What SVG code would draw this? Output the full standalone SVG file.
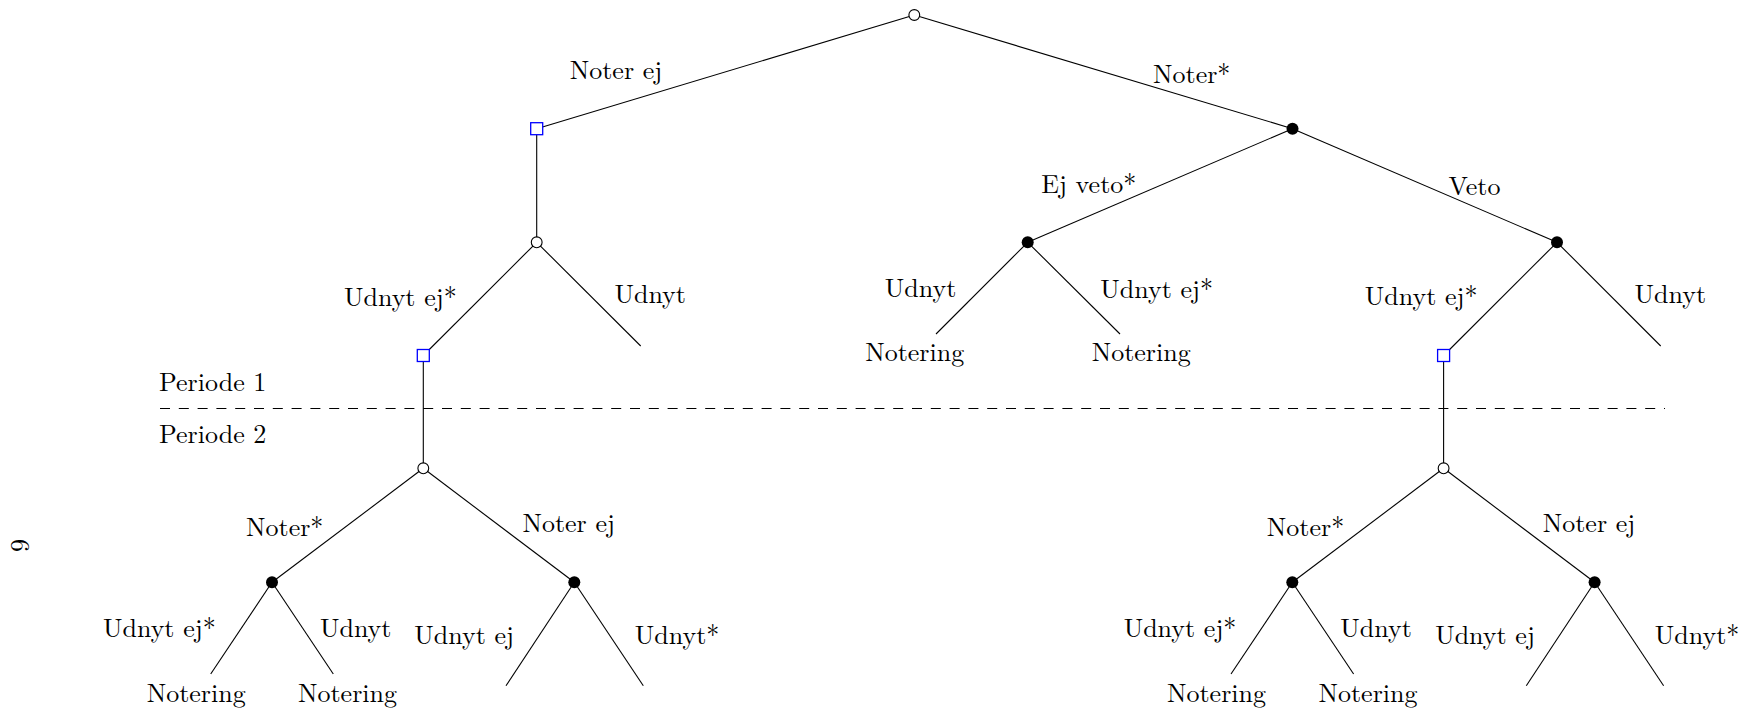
<svg xmlns="http://www.w3.org/2000/svg" width="1752" height="712" viewBox="0 0 1752 712">
<style>
.e line{stroke:#000;stroke-width:1.1}
.chance{fill:#fff;stroke:#000;stroke-width:1.1}
.dec{fill:#000}
.info{fill:#fff;stroke:#0000ff;stroke-width:1.3}
</style>
<rect width="1752" height="712" fill="#fff"/>
<line x1="160" y1="408.5" x2="1665" y2="408.5" stroke="#000" stroke-width="1.2" stroke-dasharray="10 8.8"/>
<g font-family="Latin Modern Roman, Liberation Serif, serif" font-size="26" fill="#000">
<text x="159" y="391">Periode 1</text>
<text x="159" y="443">Periode 2</text>
<text transform="translate(11,539) rotate(90)">6</text>
</g>
<g id="connectors" class="e">
<line x1="914.3" y1="15" x2="536.7" y2="128.7"/>
<line x1="914.3" y1="15" x2="1292.5" y2="128.7"/>
<line x1="536.7" y1="128.7" x2="536.7" y2="242.3"/>
<line x1="1292.5" y1="128.7" x2="1027.7" y2="242.3"/>
<line x1="1292.5" y1="128.7" x2="1557" y2="242.3"/>
<line x1="536.7" y1="242.3" x2="423.3" y2="355.5"/>
<line x1="536.7" y1="242.3" x2="640.7" y2="346"/>
<line x1="1027.7" y1="242.3" x2="936" y2="334"/>
<line x1="1027.7" y1="242.3" x2="1120" y2="334"/>
<line x1="1557" y1="242.3" x2="1443.6" y2="355.5"/>
<line x1="1557" y1="242.3" x2="1660.7" y2="346"/>
<line x1="423.3" y1="355.5" x2="423.3" y2="468.3"/>
<line x1="1443.6" y1="355.5" x2="1443.6" y2="468.3"/>
<line x1="423.3" y1="468.3" x2="272" y2="582.3"/>
<line x1="423.3" y1="468.3" x2="574.3" y2="582.3"/>
<line x1="1443.6" y1="468.3" x2="1292.3" y2="582.3"/>
<line x1="1443.6" y1="468.3" x2="1594.6" y2="582.3"/>
<line x1="272" y1="582.3" x2="210.7" y2="674"/>
<line x1="272" y1="582.3" x2="333.3" y2="674"/>
<line x1="574.3" y1="582.3" x2="506" y2="685.7"/>
<line x1="574.3" y1="582.3" x2="643.3" y2="685.7"/>
<line x1="1292.3" y1="582.3" x2="1231" y2="674"/>
<line x1="1292.3" y1="582.3" x2="1353.6" y2="674"/>
<line x1="1594.6" y1="582.3" x2="1526.3" y2="685.7"/>
<line x1="1594.6" y1="582.3" x2="1663.6" y2="685.7"/>
</g>
<g font-family="Latin Modern Roman, Liberation Serif, serif" font-size="26" fill="#000" text-anchor="middle">
<text x="616" y="79">Noter ej</text>
<text x="1191.7" y="82.5">Noter*</text>
<text x="1088.8" y="193">Ej veto*</text>
<text x="1474.5" y="195">Veto</text>
<text x="400.3" y="306">Udnyt ej*</text>
<text x="650.2" y="302.7">Udnyt</text>
<text x="920.5" y="296.7">Udnyt</text>
<text x="1156.7" y="298.3">Udnyt ej*</text>
<text x="914.7" y="361">Notering</text>
<text x="1141.2" y="361">Notering</text>
<text x="1421.2" y="305">Udnyt ej*</text>
<text x="1670.3" y="302.7">Udnyt</text>
<text x="284.7" y="535.5">Noter*</text>
<text x="568.7" y="532">Noter ej</text>
<text x="159.3" y="637.3">Udnyt ej*</text>
<text x="355.7" y="637.3">Udnyt</text>
<text x="464.2" y="644">Udnyt ej</text>
<text x="677" y="644">Udnyt*</text>
<text x="196.2" y="701.7">Notering</text>
<text x="347.5" y="701.7">Notering</text>
<text x="1305.5" y="535.5">Noter*</text>
<text x="1589" y="532">Noter ej</text>
<text x="1180" y="637.3">Udnyt ej*</text>
<text x="1376" y="637.3">Udnyt</text>
<text x="1485" y="644">Udnyt ej</text>
<text x="1697" y="644">Udnyt*</text>
<text x="1216.5" y="701.7">Notering</text>
<text x="1368" y="701.7">Notering</text>
</g>
<g id="n-root"><circle class="chance" cx="914.3" cy="15" r="5.4"/></g>
<g id="n-sq1"><rect class="info" x="530.7" y="122.7" width="12" height="12"/></g>
<g id="n-b1"><circle class="dec" cx="1292.5" cy="128.7" r="6"/></g>
<g id="n-c2"><circle class="chance" cx="536.7" cy="242.3" r="5.4"/></g>
<g id="n-b2"><circle class="dec" cx="1027.7" cy="242.3" r="6"/></g>
<g id="n-b3"><circle class="dec" cx="1557" cy="242.3" r="6"/></g>
<g id="n-sq2"><rect class="info" x="417.3" y="349.5" width="12" height="12"/></g>
<g id="n-sq3"><rect class="info" x="1437.6" y="349.5" width="12" height="12"/></g>
<g id="n-c3"><circle class="chance" cx="423.3" cy="468.3" r="5.4"/></g>
<g id="n-c4"><circle class="chance" cx="1443.6" cy="468.3" r="5.4"/></g>
<g id="n-b4"><circle class="dec" cx="272" cy="582.3" r="6"/></g>
<g id="n-b5"><circle class="dec" cx="574.3" cy="582.3" r="6"/></g>
<g id="n-b6"><circle class="dec" cx="1292.3" cy="582.3" r="6"/></g>
<g id="n-b7"><circle class="dec" cx="1594.6" cy="582.3" r="6"/></g>
</svg>
